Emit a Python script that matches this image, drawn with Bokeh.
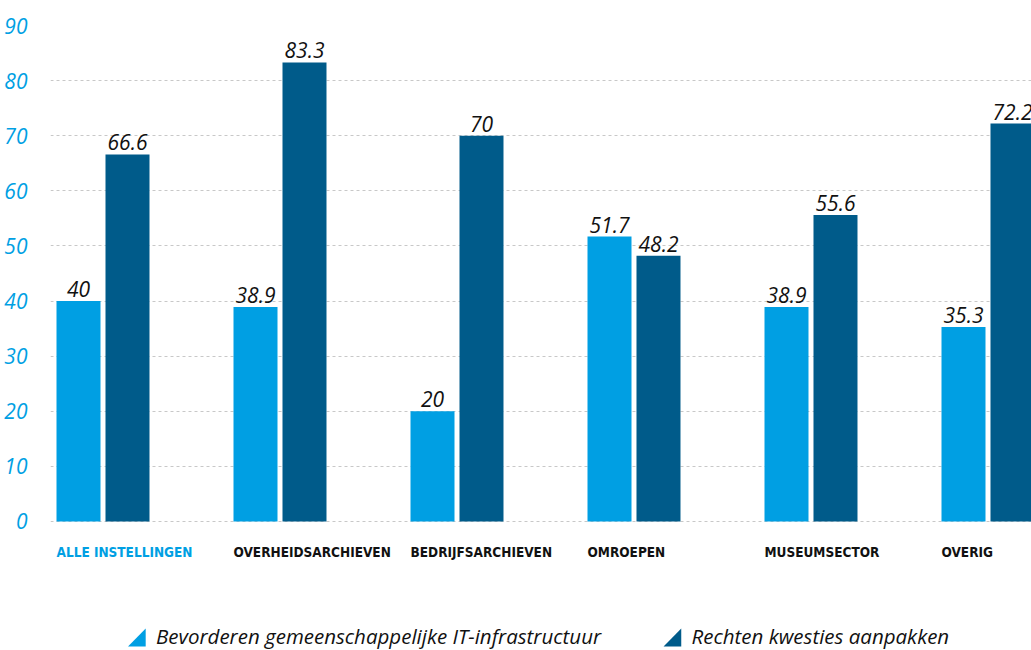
import numpy as np
from bokeh.plotting import figure
from bokeh.models import ColumnDataSource, Range1d, FixedTicker
from bokeh.core.properties import value
from bokeh.embed import file_html
from bokeh.resources import INLINE

categories = ["ALLE INSTELLINGEN", "OVERHEIDSARCHIEVEN", "BEDRIJFSARCHIEVEN",
              "OMROEPEN", "MUSEUMSECTOR", "OVERIG"]
infra = [40, 38.9, 20, 51.7, 38.9, 35.3]
rechten = [66.6, 83.3, 70, 48.2, 55.6, 72.2]
series_names = ["Bevorderen gemeenschappelijke IT-infrastructuur",
                "Rechten kwesties aanpakken"]
y_ticks = list(range(0, 91, 10))

LIGHT = "#009FE3"
DARK = "#005B8A"

idx = np.arange(len(categories))
off = 0.1384
bw = 0.2486

p = figure(width=1031, height=650, output_backend="svg", toolbar_location=None,
           x_range=Range1d(-0.29661, 5.2458), y_range=Range1d(-23.41, 90),
           min_border_left=50, min_border_right=0, min_border_top=25,
           min_border_bottom=0)
p.outline_line_color = None
p.background_fill_color = "white"
p.xaxis.visible = False
p.xgrid.grid_line_color = None

ya = p.yaxis[0]
ya.ticker = FixedTicker(ticks=y_ticks)
ya.axis_line_color = None
ya.major_tick_line_color = None
ya.minor_tick_line_color = None
ya.major_label_text_color = LIGHT
ya.major_label_text_font = "Open Sans"
ya.major_label_text_font_style = "italic"
ya.major_label_text_font_size = "21px"
ya.major_label_standoff = 17

p.ygrid.ticker = FixedTicker(ticks=y_ticks)
p.ygrid.grid_line_color = "#c8c8c8"
p.ygrid.grid_line_dash = "3 3"
p.ygrid.grid_line_width = 1

src1 = ColumnDataSource(dict(x=idx - off, top=infra, lab=[f"{v:g}" for v in infra]))
src2 = ColumnDataSource(dict(x=idx + off, top=rechten, lab=[f"{v:g}" for v in rechten]))

p.vbar(x="x", top="top", width=bw, bottom=0, source=src1, color=LIGHT, line_color=None)
p.vbar(x="x", top="top", width=bw, bottom=0, source=src2, color=DARK, line_color=None)

for s in (src1, src2):
    p.text(x="x", y="top", text="lab", source=s, text_align="center",
           text_baseline="bottom", y_offset=-4, text_color="#111111",
           text_font=value("Open Sans"), text_font_style="italic",
           text_font_size="21px")

# category labels, left-aligned at each group's first bar
cat_src = ColumnDataSource(dict(x=idx - off - bw / 2, y=[-5.5] * len(categories),
                                text=categories,
                                color=[LIGHT] + ["#111111"] * (len(categories) - 1)))
p.text(x="x", y="y", text="text", source=cat_src, text_color="color",
       text_align="left", text_baseline="middle",
       text_font=value("DejaVu Sans Condensed"),
       text_font_style="bold", text_font_size="13.5px")

# legend
leg_x = [0.1412, 3.167]
tri_w = 0.1
tri_h = 3.27
tri_y = -22.68
p.patches(xs=[[lx, lx + tri_w, lx + tri_w] for lx in leg_x],
          ys=[[tri_y, tri_y, tri_y + tri_h] for _ in leg_x],
          color=[LIGHT, DARK], line_color=None)
p.text(x=[lx + 0.158 for lx in leg_x], y=[-23.23] * 2, text=series_names,
       text_align="left", text_baseline="bottom", text_color="#111111",
       text_font=value("Open Sans"), text_font_style="italic",
       text_font_size="20.5px")

open("out.html", "w").write(file_html(p, INLINE))
